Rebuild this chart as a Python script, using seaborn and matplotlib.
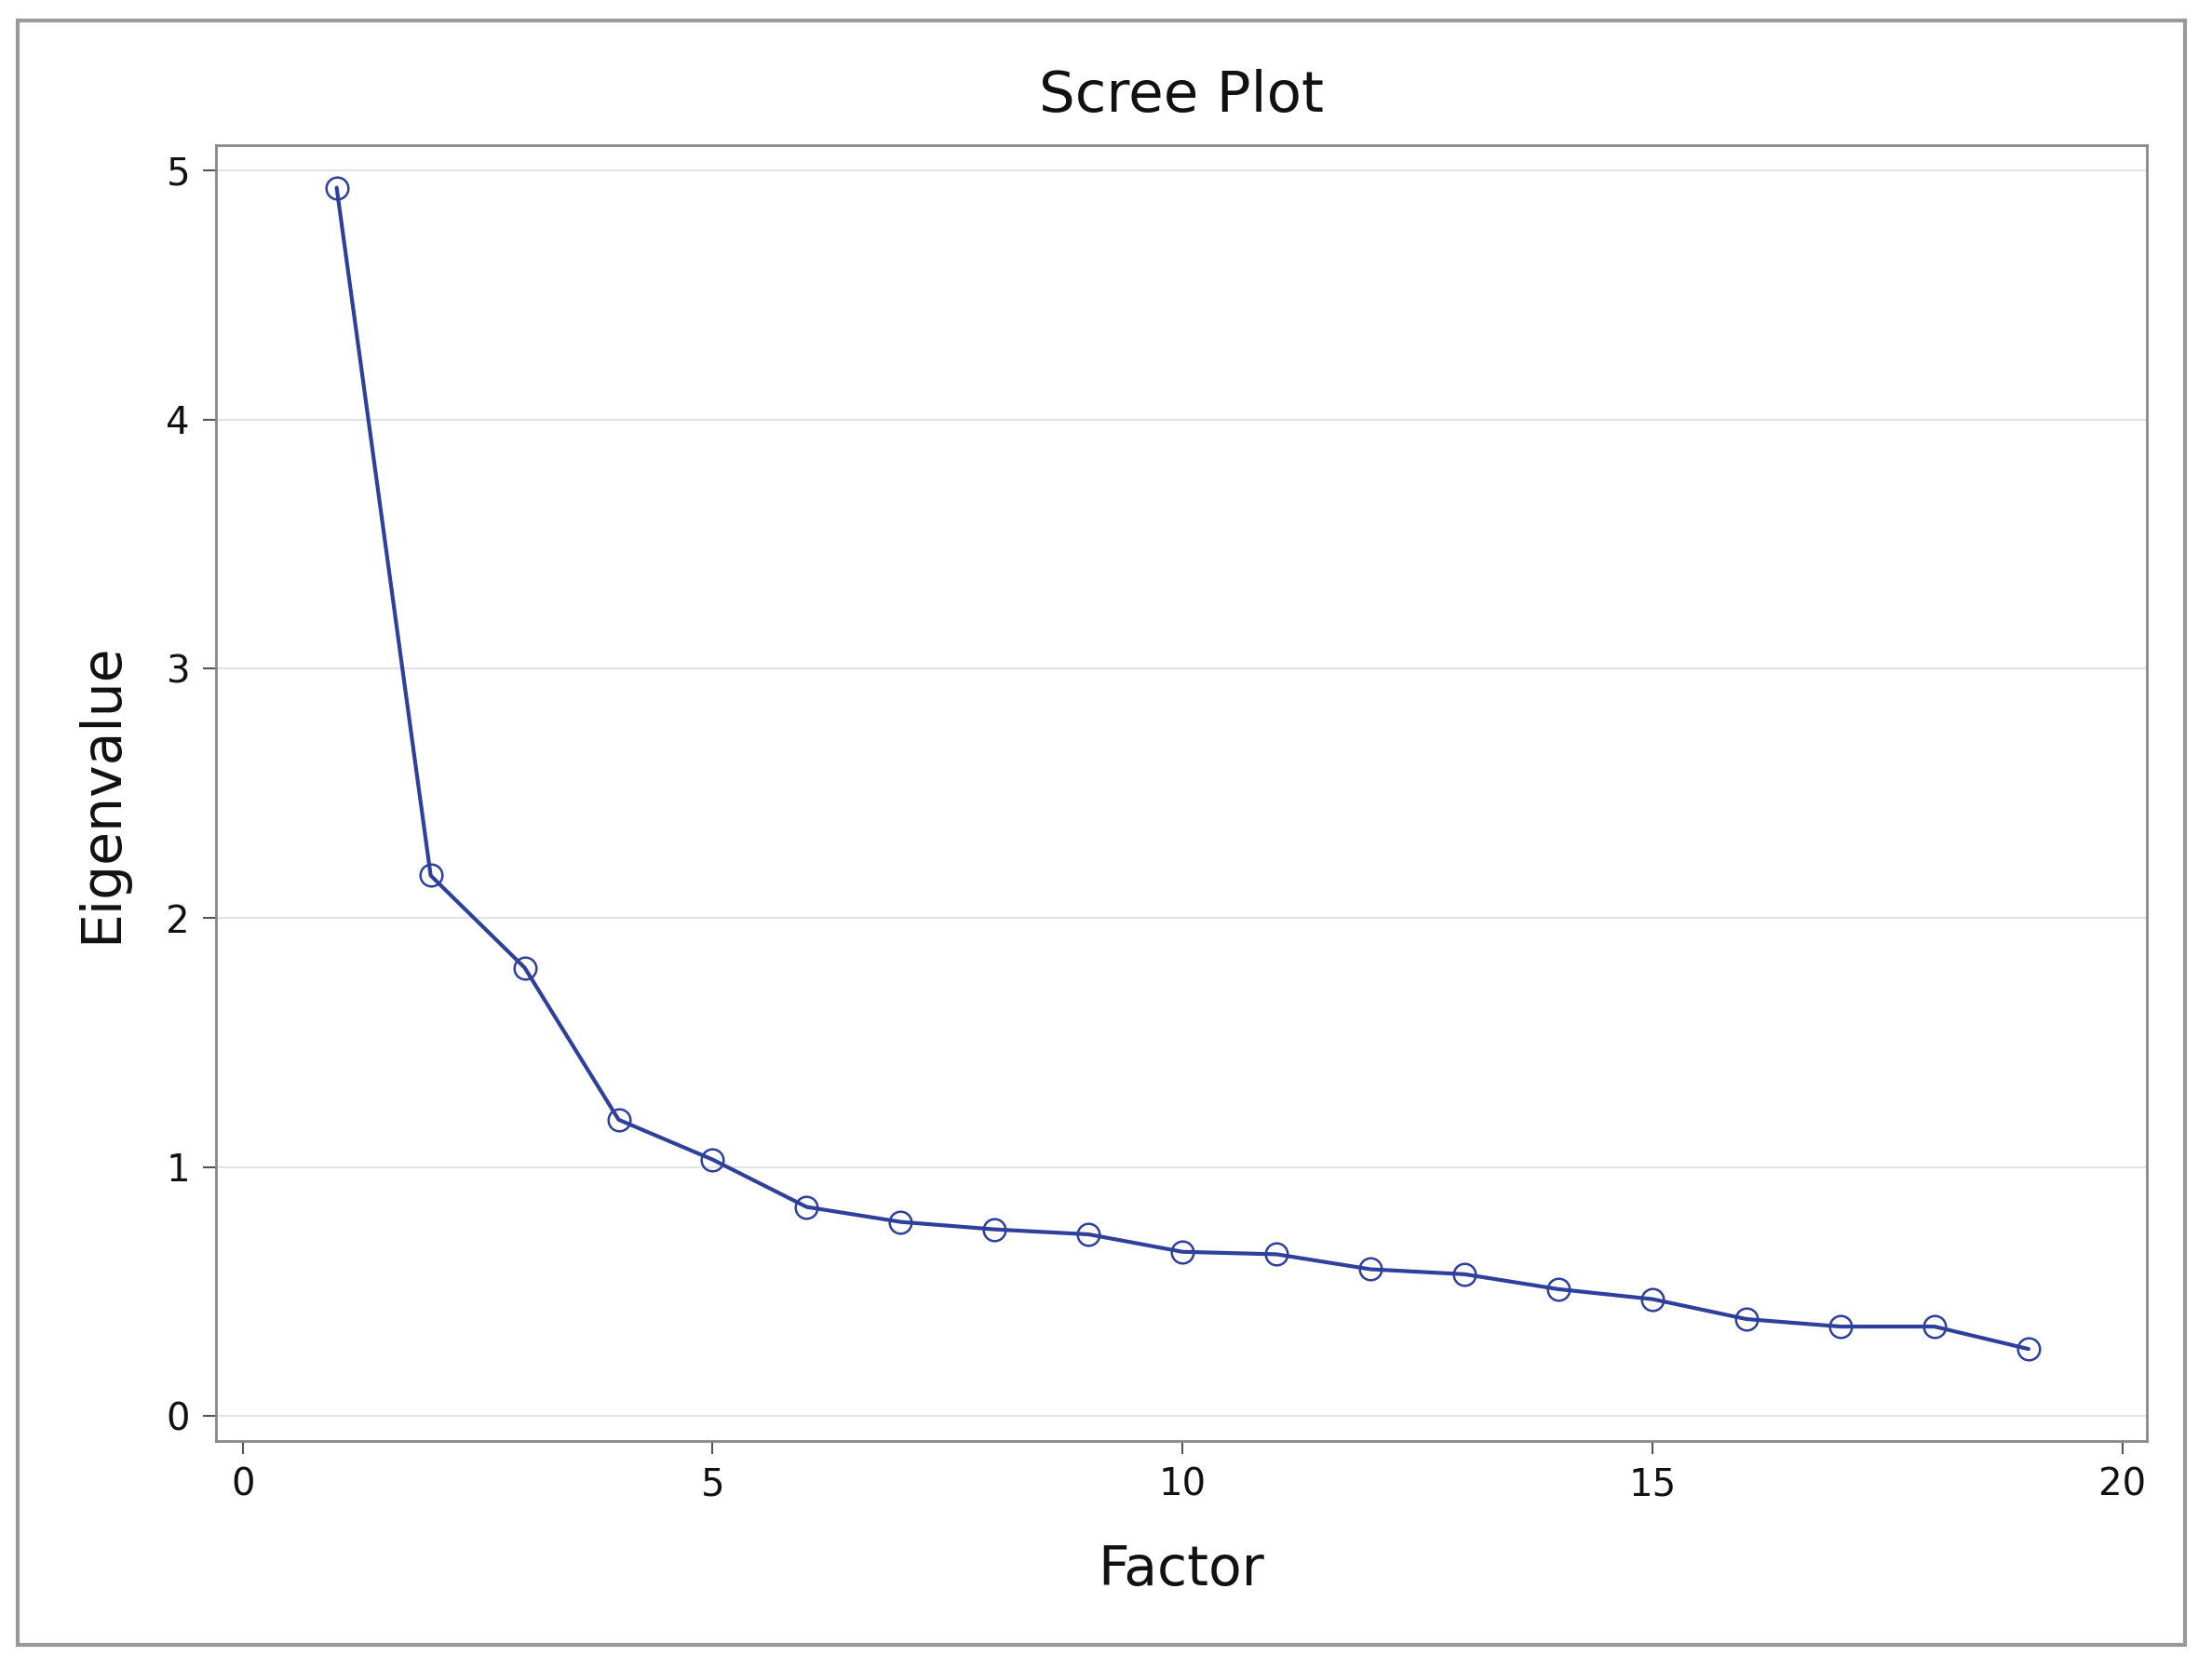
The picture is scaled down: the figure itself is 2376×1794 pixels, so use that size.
import numpy as np
import pandas as pd
import matplotlib.pyplot as plt
import seaborn as sns
from matplotlib.patches import Rectangle

# Eigenvalues
factors = list(range(1, 20))
eigenvalues = [4.93, 2.17, 1.80, 1.19, 1.03, 0.84, 0.78, 0.75, 0.73, 0.66,
               0.65, 0.59, 0.57, 0.51, 0.47, 0.39, 0.36, 0.36, 0.27]
df = pd.DataFrame({"Factor": factors, "Eigenvalue": eigenvalues})

sns.set_theme(style="white")
plt.rcParams['font.family'] = ['DejaVu Sans']

fig = plt.figure(figsize=(23.76, 17.94), dpi=100)
ax = fig.add_axes([0.0976, 0.137, 0.873, 0.776])

line_color = '#2e3f9c'
sns.lineplot(data=df, x="Factor", y="Eigenvalue", ax=ax, color=line_color,
             linewidth=3, marker='o', markersize=17, markerfacecolor='none',
             markeredgecolor=line_color, markeredgewidth=1.8)

ax.set_xlim(-0.285, 20.26)
ax.set_ylim(-0.10, 5.10)
ax.set_xticks([0, 5, 10, 15, 20])
ax.set_yticks([0, 1, 2, 3, 4, 5])
ax.yaxis.grid(True, color='#e3e3e3', linewidth=1.5)
ax.set_axisbelow(True)
ax.tick_params(axis='both', labelsize=29, length=10, width=1.5, color='#555555',
               direction='out', bottom=True, left=True, pad=10, labelcolor='#111111')
for s in ax.spines.values():
    s.set_color('#888888')
    s.set_linewidth(2)

ax.set_xlabel("Factor", fontsize=42, labelpad=30, color='#111111')
ax.set_ylabel("Eigenvalue", fontsize=42, labelpad=30, color='#111111')
ax.set_title("Scree Plot", fontsize=44, pad=26, color='#111111')

# outer frame around the whole chart
fig.patches.append(Rectangle((0.008, 0.015), 0.98, 0.973, transform=fig.transFigure,
                             fill=False, edgecolor='#999999', linewidth=3))

fig.savefig("out.png", dpi=100)
